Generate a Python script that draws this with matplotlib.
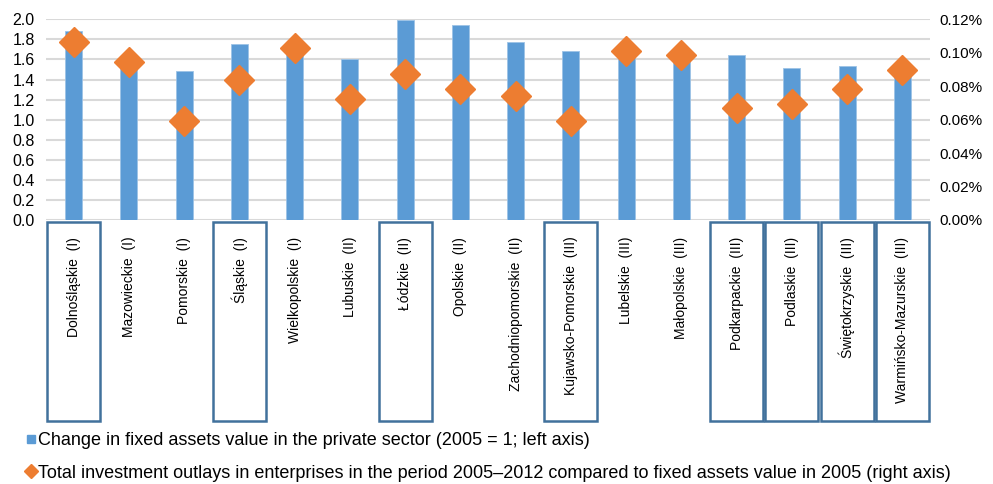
import numpy as np
import matplotlib
matplotlib.use("Agg")
import matplotlib.pyplot as plt
from matplotlib.patches import Rectangle
from matplotlib.lines import Line2D
from matplotlib.ticker import FuncFormatter

plt.rcParams['font.family'] = ['Liberation Sans', 'DejaVu Sans']

regions = ['Dolnośląskie  (I)', 'Mazowieckie  (I)', 'Pomorskie  (I)', 'Śląskie  (I)',
           'Wielkopolskie  (I)', 'Lubuskie  (II)', 'Łódzkie  (II)', 'Opolskie  (II)',
           'Zachodniopomorskie  (II)', 'Kujawsko-Pomorskie  (III)', 'Lubelskie  (III)',
           'Małopolskie  (III)', 'Podkarpackie  (III)', 'Podlaskie  (III)',
           'Świętokrzyskie  (III)', 'Warmińsko-Mazurskie  (III)']

# fixed assets in the private sector, 2005 = 1
assets_change = [1.88, 1.57, 1.49, 1.75, 1.66, 1.60, 1.99, 1.94,
                 1.77, 1.685, 1.62, 1.60, 1.645, 1.515, 1.535, 1.47]

# investment outlays 2005-2012 relative to 2005 fixed assets, in %
invest_ratio = [0.1063, 0.0946, 0.0590, 0.0835, 0.1027, 0.0722, 0.0871, 0.0781,
                0.0743, 0.0592, 0.1012, 0.0987, 0.0668, 0.0694, 0.0783, 0.0897]

# regions with a frame around their label
boxed = [0, 3, 6, 9, 12, 13, 14, 15]

blue = '#5B9BD5'
orange = '#ED7D31'
grid_col = '#D9D9D9'
frame_col = '#41719C'

x = np.arange(len(regions))

fig = plt.figure(figsize=(9.93, 4.84), dpi=100)
ax = fig.add_axes([0.0463, 0.5455, 0.8903, 0.4145])
ax2 = ax.twinx()

ax.bar(x, assets_change, width=0.31, color=blue, edgecolor='#9DC3E6', linewidth=0.6, zorder=2)
ax2.plot(x, invest_ratio, linestyle='none', marker='D', markersize=15.5,
         color=orange, markeredgecolor=orange, zorder=3)

ax.set_xlim(-0.5, len(regions) - 0.5)
ax.set_ylim(0, 2.0)
ax.set_yticks(np.arange(0, 2.01, 0.2))
ax.yaxis.set_major_formatter(FuncFormatter(lambda v, p: f'{v:.1f}'))
ax2.set_ylim(0, 0.12)
ax2.set_yticks(np.arange(0, 0.1201, 0.02))
ax2.yaxis.set_major_formatter(FuncFormatter(lambda v, p: f'{v:.2f}%'))

ax.grid(axis='y', color=grid_col, linewidth=1.5, zorder=0)
ax.set_axisbelow(True)
for a in (ax, ax2):
    for s in a.spines.values():
        s.set_visible(False)
ax.tick_params(axis='y', length=0, pad=8, labelsize=11.5)
ax2.tick_params(axis='y', length=0, pad=7, labelsize=11)
ax.tick_params(axis='x', length=0, pad=12)
ax.set_xticks(x)
ax.set_xticklabels(regions, rotation=90, va='top', ha='center', fontsize=10)

# frames around selected labels
for i in boxed:
    ax.add_patch(Rectangle((i - 0.48, -0.01), 0.96, -0.99,
                           transform=ax.get_xaxis_transform(), fill=False,
                           edgecolor=frame_col, linewidth=1.8, clip_on=False))

handles = [
    Line2D([], [], linestyle='none', marker='s', markersize=6, color=blue),
    Line2D([], [], linestyle='none', marker='D', markersize=7, color=orange),
]
labels = [
    'Change in fixed assets value in the private sector (2005 = 1; left axis)',
    'Total investment outlays in enterprises in the period 2005–2012 compared to fixed assets value in 2005 (right axis)',
]
fig.legend(handles, labels, loc='lower left', bbox_to_anchor=(0.012, -0.025),
           frameon=False, fontsize=13, handlelength=0.5, handletextpad=0.12,
           labelspacing=0.85, borderpad=0.3)

fig.savefig('out.png', dpi=100)
